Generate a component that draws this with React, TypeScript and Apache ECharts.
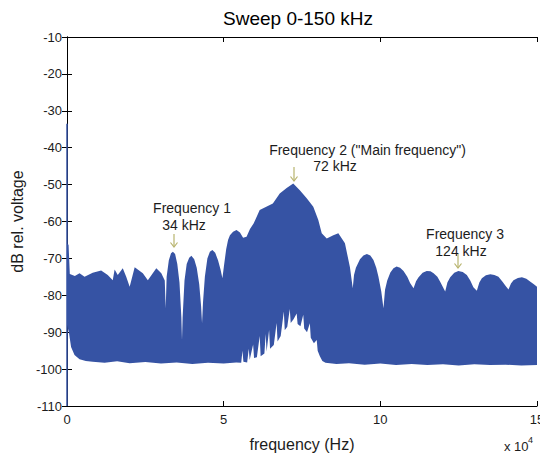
import React, { useEffect, useRef } from "react";
import * as echarts from "echarts";

// ---- data (frequencies in kHz, levels in dB rel. voltage) ----
const upperFreqKHz = [
  0, 0.5, 0.9, 2.5, 4.0, 5.6, 8.2, 10.9, 13.0, 14.6, 15.2, 16.2, 17.8, 18.9, 20.0, 21.6,
  24.2, 25.8, 28.5, 30.1, 31.2, 31.5, 31.8, 32.5, 33.2, 33.8, 34.5, 35.2, 35.9, 36.5, 36.7,
  36.9, 37.5, 38.2, 39.0, 39.7, 40.6, 41.4, 42.2, 42.8, 43.1, 43.4, 44.0, 44.8, 45.6, 46.4,
  47.3, 48.2, 49.0, 49.6, 50.1, 50.8, 51.4, 52.0, 53.0, 54.1, 55.2, 56.2, 57.3, 58.4, 59.6,
  61.5, 63.6, 65.7, 67.9, 70.1, 72.2, 74.3, 76.5, 78.6, 80.2, 81.3, 82.9, 85.0, 86.6, 88.7,
  90.3, 91.2, 91.6, 92.2, 93.5, 94.6, 95.7, 96.8, 97.8, 98.7, 99.4, 100.3, 101.0, 101.5,
  102.2, 103.2, 104.2, 105.2, 106.3, 107.4, 108.6, 109.5, 110.6, 111.4, 112.2, 113.5, 114.8,
  116.0, 117.0, 118.2, 119.1, 120.0, 120.7, 121.4, 122.3, 123.6, 124.9, 126.3, 127.6, 128.7,
  129.7, 130.8, 131.6, 132.4, 133.7, 135.1, 136.4, 137.7, 139.0, 140.0, 140.9, 141.7, 142.5,
  143.9, 145.2, 146.6, 147.9, 149.0, 150.0,
];
const upperDb = [
  -66, -66.3, -74.2, -74.8, -74.0, -75.0, -73.9, -73.3, -74.5, -75.9, -73.0, -74.5, -72.7, -75.0, -77.7, -72.4,
  -74.0, -75.9, -72.7, -74.0, -76, -83.5, -75, -70.5, -68.6, -68.2, -68.8, -71.5, -76.5, -86, -92.1,
  -86, -76, -71.5, -69.8, -69.3, -70.2, -72.5, -77, -83, -87.6, -82, -75, -70, -68.2, -67.7,
  -68.5, -70.5, -73, -75.4, -72, -67.5, -65, -63.7, -62.8, -62.3, -63, -64.4, -64.1, -62, -60.5,
  -56.9, -56.0, -55.1, -52.4, -50.9, -49.7, -51.5, -53.7, -56.0, -59.6, -63.2, -64.6, -63.7, -63.2, -65.9,
  -72.4, -78.1, -74.5, -72.5, -70.2, -69.2, -68.8, -69.2, -70.4, -72.5, -75.0, -79, -83.5, -78.5,
  -76.0, -73.8, -72.7, -72.2, -72.5, -73.4, -75.0, -76.7, -78.1, -76.2, -75.1, -73.9, -73.4,
  -73.5, -74.0, -75.0, -76.3, -77.8, -79.0, -76.5, -75.1, -73.9, -73.4, -73.7, -74.5, -76.0,
  -77.8, -78.8, -76.5, -75.4, -74.6, -74.3, -74.5, -75.0, -76.3, -77.5, -78.4, -76.8, -75.9,
  -75.3, -75.1, -75.5, -76.3, -77, -77.7,
];
const lowerFreqKHz = [
  0, 0.6, 1.3, 2.4, 4.0, 6.0, 8.2, 12, 16, 20, 25, 30, 35, 40, 45, 50, 54,
  55.6, 56.0, 56.3, 57.5, 58.0, 58.3, 59.4, 59.7, 60.6, 61.5, 61.8, 63.0, 63.4, 63.7,
  64.5, 64.8, 66.0, 66.9, 67.2, 68.2, 69.2, 69.5, 70.3, 71.1, 71.4, 72.3, 73.3, 73.6,
  74.5, 75.4, 75.7, 76.6, 77.5, 77.8, 78.8, 79.7, 80.0, 80.7, 81.5, 82.5,
  86, 90, 95, 100, 105, 110, 115, 120, 125, 130, 135, 140, 145, 150,
];
const lowerDb = [
  -88, -90, -94, -96.2, -97.3, -97.8, -98, -98.3, -97.9, -98.4, -98.1, -98.5, -98.2, -98.6, -98.3, -98.5, -98.2,
  -98.3, -95.0, -98.0, -98.2, -94.5, -97.5, -93.3, -97, -96.8, -91.0, -96.5, -95.8, -90.5, -95.3,
  -89.4, -94.5, -93.5, -87.5, -92.5, -91.0, -84.4, -89.5, -88.5, -83.7, -87.5, -86.5, -84.9, -87.8,
  -88.4, -85.3, -89.0, -90, -87.6, -91.5, -93, -92.1, -95, -96.5, -97.8, -98.3,
  -98.6, -98.4, -98.8, -98.5, -98.9, -98.6, -98.9, -98.7, -99.0, -98.7, -98.9, -98.8, -99.0, -98.9,
];
// the 0 Hz component: a single vertical line on the left edge
const dcFreqKHz = [0, 0];
const dcDb = [-33.5, -110];

const yMin = -110;
const yMax = -10;
const yStep = 10;
const xMinHz = 0;
const xMaxHz = 150000;
const xStepHz = 50000;

const peakNames = ["Frequency 1", 'Frequency 2 ("Main frequency")', "Frequency 3"];
const peakValues = ["34 kHz", "72 kHz", "124 kHz"];

// ---- styling ----
const BAND = "#3653a4";
const TEXT = "#1c1c1c";
const ARROW = "#b8b46e";
const FONT = "'Liberation Sans', Arial, sans-serif";

// annotation layout (pixels)
const annLayout = [
  { nameX: 192, nameY: 208, valX: 184, valY: 225, arX: 174, arY1: 234, arY2: 247 },
  { nameX: 367.5, nameY: 150, valX: 335, valY: 166, arX: 294, arY1: 167, arY2: 181 },
  { nameX: 465, nameY: 234, valX: 461, valY: 251, arX: 458, arY1: 254, arY2: 268 },
];

function buildGraphics() {
  const g: any[] = [];
  g.push({
    type: "text",
    x: 298,
    y: 18,
    style: { text: "Sweep 0-150 kHz", font: `19px ${FONT}`, fill: "#000", textAlign: "center", textVerticalAlign: "middle" },
  });
  annLayout.forEach((a, i) => {
    g.push({
      type: "text",
      x: a.nameX,
      y: a.nameY,
      z: 10,
      style: { text: peakNames[i], font: `14px ${FONT}`, fill: TEXT, textAlign: "center", textVerticalAlign: "middle" },
    });
    g.push({
      type: "text",
      x: a.valX,
      y: a.valY,
      z: 10,
      style: { text: peakValues[i], font: `14px ${FONT}`, fill: TEXT, textAlign: "center", textVerticalAlign: "middle" },
    });
    g.push({
      type: "line",
      z: 10,
      shape: { x1: a.arX, y1: a.arY1, x2: a.arX, y2: a.arY2 },
      style: { stroke: ARROW, lineWidth: 1.2 },
    });
    g.push({
      type: "polyline",
      z: 10,
      shape: { points: [[a.arX - 3.5, a.arY2 - 4.5], [a.arX, a.arY2], [a.arX + 3.5, a.arY2 - 4.5]] },
      style: { stroke: ARROW, lineWidth: 1.2, fill: "none" },
    });
  });
  g.push({
    type: "text",
    x: 504,
    y: 446,
    style: { text: "x 10", font: `13px ${FONT}`, fill: TEXT, textAlign: "left", textVerticalAlign: "middle" },
  });
  g.push({
    type: "text",
    x: 528,
    y: 440,
    style: { text: "4", font: `9px ${FONT}`, fill: TEXT, textAlign: "left", textVerticalAlign: "middle" },
  });
  return g;
}

export default function App() {
  const ref = useRef<HTMLDivElement>(null);
  useEffect(() => {
    if (!ref.current) return;
    const chart = echarts.init(ref.current, null, { renderer: "svg", width: 540, height: 453 });
    const axisLine = { show: true, lineStyle: { color: "#000", width: 1 } };
    const option: any = {
      animation: false,
      backgroundColor: "#fff",
      grid: { left: 67, right: 3, top: 37, bottom: 47, containLabel: false, outerBoundsMode: "none" },
      xAxis: [
        {
          type: "value",
          min: xMinHz,
          max: xMaxHz,
          interval: xStepHz,
          position: "bottom",
          axisLine,
          axisTick: { show: true, inside: true, length: 5, lineStyle: { color: "#000" } },
          splitLine: { show: false },
          axisLabel: {
            margin: 7,
            color: TEXT,
            fontSize: 13,
            fontFamily: FONT,
            formatter: (v: number) => String(v / 10000),
          },
          name: "frequency (Hz)",
          nameLocation: "middle",
          nameGap: 30,
          nameTextStyle: { fontSize: 16, fontFamily: FONT, color: TEXT },
        },
        {
          type: "value",
          min: xMinHz,
          max: xMaxHz,
          interval: xStepHz,
          position: "top",
          axisLine,
          axisTick: { show: true, inside: true, length: 5, lineStyle: { color: "#000" } },
          splitLine: { show: false },
          axisLabel: { show: false },
        },
      ],
      yAxis: [
        {
          type: "value",
          min: yMin,
          max: yMax,
          interval: yStep,
          position: "left",
          axisLine,
          axisTick: { show: true, inside: true, length: 5, lineStyle: { color: "#000" } },
          splitLine: { show: false },
          axisLabel: { margin: 5, color: TEXT, fontSize: 13, fontFamily: FONT },
          name: "dB rel. voltage",
          nameLocation: "middle",
          nameGap: 27,
          nameTextStyle: { fontSize: 16, fontFamily: FONT, color: TEXT },
        },
        {
          type: "value",
          min: yMin,
          max: yMax,
          interval: yStep,
          position: "right",
          axisLine,
          axisTick: { show: true, inside: true, length: 5, lineStyle: { color: "#000" } },
          splitLine: { show: false },
          axisLabel: { show: false },
        },
      ],
      series: [
        {
          type: "custom",
          coordinateSystem: "cartesian2d",
          xAxisIndex: 0,
          yAxisIndex: 0,
          silent: true,
          clip: true,
          data: [[0, -100]],
          renderItem: (_params: any, api: any) => {
            const pts: number[][] = [];
            for (let i = 0; i < upperFreqKHz.length; i++) {
              pts.push(api.coord([upperFreqKHz[i] * 1000, upperDb[i]]));
            }
            for (let i = lowerFreqKHz.length - 1; i >= 0; i--) {
              pts.push(api.coord([lowerFreqKHz[i] * 1000, lowerDb[i]]));
            }
            return { type: "polygon", shape: { points: pts }, style: { fill: BAND, stroke: "none" } };
          },
        },
        {
          type: "line",
          xAxisIndex: 0,
          yAxisIndex: 0,
          silent: true,
          clip: false,
          symbol: "none",
          lineStyle: { color: BAND, width: 1.5 },
          data: dcFreqKHz.map((f, i) => [f * 1000, dcDb[i]]),
          z: 3,
        },
      ],
      graphic: buildGraphics(),
    };
    chart.setOption(option);
    return () => chart.dispose();
  }, []);
  return (
    <div
      ref={ref}
      style={{ position: "absolute", left: 0, top: 0, width: 540, height: 453, background: "#fff" }}
    />
  );
}
